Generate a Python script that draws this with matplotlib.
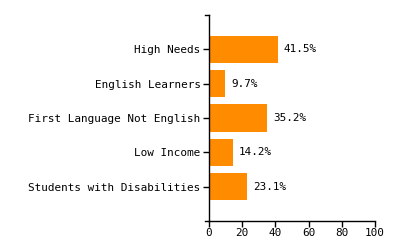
import numpy as np
import matplotlib
matplotlib.use("Agg")
import matplotlib.pyplot as plt

categories = ["High Needs", "English Learners", "First Language Not English",
              "Low Income", "Students with Disabilities"]
values = [41.5, 9.7, 35.2, 14.2, 23.1]
xticks = [0, 20, 40, 60, 80, 100]

plt.rcParams['font.family'] = ['DejaVu Sans Mono']
plt.rcParams['font.size'] = 7.9

fig = plt.figure(figsize=(4, 2.5), dpi=100)
ax = fig.add_axes([209/400, 1-221/250, 166/400, 206/250])

pos = np.arange(len(categories))
ax.barh(pos, values, height=0.8, color='#ff8c00')
for p, v in zip(pos, values):
    ax.text(v + 3.5, p, "%.1f%%" % v, va='center', ha='left', color='black')

ax.set_xlim(0, 100)
ax.set_ylim(5, -1)
ax.set_yticks(pos)
ax.set_yticklabels(categories)
ax.set_xticks(xticks)
ax.set_xticklabels([str(t) for t in xticks])
ax.tick_params(axis='y', length=4, width=1, pad=2)
ax.tick_params(axis='x', length=4, width=1, pad=1)
for s in ['top', 'right']:
    ax.spines[s].set_visible(False)
for s in ['left', 'bottom']:
    ax.spines[s].set_linewidth(1)
# outer ticks at ends of the axes
ax.plot([-2.4, 0], [-1, -1], color='black', lw=1, clip_on=False)
ax.plot([-2.4, 0], [5, 5], color='black', lw=1, clip_on=False)

fig.savefig("out.png", dpi=100)
